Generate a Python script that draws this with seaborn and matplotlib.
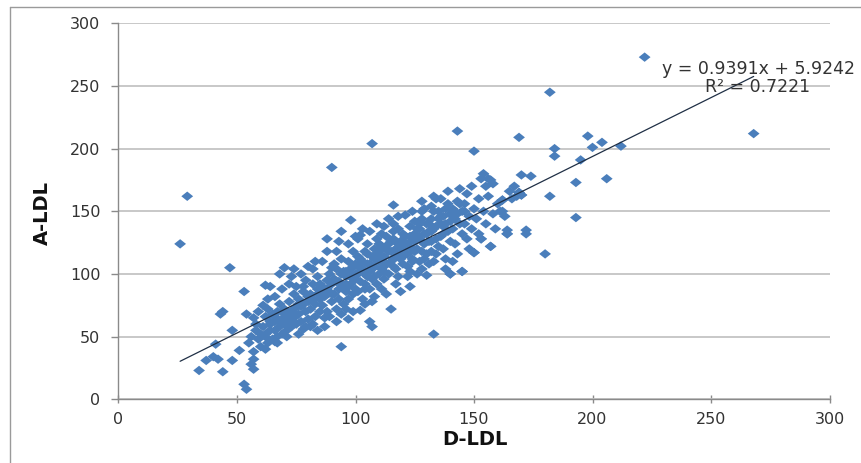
import matplotlib
matplotlib.use("Agg")
import matplotlib.pyplot as plt
import seaborn as sns
import numpy as np
import pandas as pd
from matplotlib.lines import Line2D

# ---- data ----
# outlying points
out_x = [222, 182, 268, 143, 150, 169, 184, 184, 198, 200, 204, 212, 195, 206, 193, 182, 193,
         170, 174, 169, 164, 172, 162, 157, 154, 162, 170, 180, 172, 164, 157, 153, 150, 145,
         140, 133, 26, 29, 90, 107, 94, 47, 53, 44, 43, 62, 34, 37, 40, 42, 44, 41, 48, 51,
         53, 54, 57, 48, 54, 57, 66]
out_y = [273, 245, 212, 214, 198, 209, 200, 194, 210, 201, 205, 202, 191, 176, 173, 162, 145,
         179, 178, 165, 135, 135, 150, 175, 180, 159, 163, 116, 132, 132, 122, 128, 117, 102,
         100, 52, 124, 162, 185, 204, 42, 105, 86, 70, 68, 91, 23, 31, 34, 32, 22, 44, 31, 39,
         12, 8, 24, 55, 68, 32, 46]

# main cloud
cloud_x = [55, 56, 57, 58, 58, 59, 57, 60, 56, 59, 60,
           61, 62, 62, 63, 63, 64, 64, 65, 61, 65, 63, 62, 64,
           66, 66, 67, 67, 68, 68, 69, 69, 70, 70, 66, 68, 70, 67, 69,
           71, 71, 72, 72, 73, 73, 74, 74, 75, 75, 72, 74, 71, 75, 73,
           76, 76, 77, 77, 78, 78, 79, 79, 80, 80, 77, 80, 76, 79, 78,
           81, 81, 82, 82, 83, 83, 84, 84, 85, 85, 82, 84, 81, 83, 85,
           86, 86, 87, 87, 88, 88, 89, 89, 90, 90, 86, 88, 87, 89, 90, 88,
           91, 91, 92, 92, 93, 93, 94, 94, 95, 95, 92, 94, 91, 93, 95, 92, 94,
           96, 96, 97, 97, 98, 98, 99, 99, 100, 100, 96, 98, 97, 99, 100, 97, 100,
           101, 101, 102, 102, 103, 103, 104, 104, 105, 105, 101, 102, 103, 104, 105, 101, 102,
           106, 106, 107, 107, 108, 108, 109, 109, 110, 110, 106, 107, 108, 109, 110, 106, 107,
           111, 111, 112, 112, 113, 113, 114, 114, 115, 115, 111, 112, 113, 115, 114, 111,
           116, 116, 117, 117, 118, 118, 119, 119, 120, 120, 116, 117, 118, 119, 120, 116,
           121, 121, 122, 122, 123, 123, 124, 124, 125, 125, 121, 122, 124, 123, 125,
           126, 126, 127, 127, 128, 128, 129, 129, 130, 130, 126, 128, 127, 130, 129,
           131, 131, 132, 132, 133, 133, 134, 134, 135, 135, 131, 133, 132, 134,
           136, 136, 137, 137, 138, 138, 139, 139, 140, 140, 136, 138, 140,
           141, 141, 142, 142, 143, 143, 144, 144, 145, 145, 141, 145,
           146, 146, 147, 147, 148, 148, 149, 149, 150, 150,
           151, 152, 152, 153, 154, 155, 155, 156, 157, 158, 158, 160, 159, 153, 156,
           161, 162, 163, 164, 165, 166, 167, 168, 170, 169]
cloud_y = [45, 50, 38, 55, 60, 48, 65, 42, 28, 70, 52,
           58, 50, 66, 45, 72, 55, 62, 48, 75, 68, 80, 40, 90,
           55, 62, 70, 50, 58, 76, 64, 52, 72, 60, 82, 100, 105, 45, 88,
           66, 55, 78, 62, 70, 58, 84, 65, 74, 60, 92, 104, 50, 90, 98,
           68, 80, 62, 74, 86, 56, 70, 95, 78, 64, 100, 106, 52, 58, 90,
           72, 84, 60, 92, 76, 66, 88, 98, 80, 70, 104, 55, 58, 110, 92,
           75, 90, 82, 65, 95, 70, 85, 100, 78, 92, 110, 118, 58, 66, 105, 128,
           84, 96, 72, 104, 88, 80, 100, 112, 90, 76, 118, 68, 108, 126, 102, 62, 134,
           86, 98, 80, 110, 92, 104, 84, 118, 96, 108, 72, 143, 124, 70, 88, 64, 130,
           100, 86, 112, 94, 104, 80, 118, 92, 108, 98, 128, 71, 136, 76, 124, 114, 131,
           102, 88, 114, 96, 120, 106, 92, 128, 110, 100, 62, 58, 82, 140, 118, 134, 78,
           104, 122, 96, 114, 130, 108, 100, 118, 126, 110, 88, 138, 84, 72, 144, 132,
           112, 128, 104, 120, 136, 98, 116, 126, 108, 132, 155, 92, 146, 86, 120, 140,
           116, 130, 106, 124, 138, 90, 112, 128, 118, 142, 147, 98, 150, 102, 132,
           120, 136, 110, 128, 144, 104, 124, 152, 116, 132, 100, 158, 140, 99, 112,
           126, 140, 118, 134, 150, 110, 128, 160, 122, 144, 108, 162, 154, 116,
           130, 146, 120, 138, 152, 112, 134, 166, 126, 148, 160, 104, 100,
           136, 152, 124, 144, 158, 116, 140, 168, 132, 102, 110, 150,
           140, 156, 128, 164, 146, 120, 136, 170, 117, 152,
           144, 160, 132, 128, 150, 170, 140, 162, 122, 148, 172, 156, 136, 176, 176,
           150, 159, 146, 132, 166, 160, 170, 162, 163, 165]

# extra points filling the dense core of the cloud
core_x = [92, 94, 96, 98, 99, 101, 103, 104, 106, 108, 109, 111, 112, 114, 115, 117, 118,
          120, 121, 123, 124, 126, 127, 129, 130, 132, 133, 135, 137, 138, 139, 141, 142,
          144, 96, 99, 102, 105, 107, 110, 113, 116, 119, 122, 125, 128, 131, 134, 137,
          140, 143, 146, 88, 90, 93, 97, 100, 104, 108, 112, 116, 120, 124, 128, 132, 136,
          62, 64, 66, 68, 70, 72, 74, 76, 78, 80, 82, 84, 86]
core_y = [94, 92, 102, 98, 106, 106, 110, 100, 108, 112, 116, 112, 106, 124, 118, 114, 124,
          126, 122, 130, 120, 130, 136, 132, 140, 144, 136, 150, 146, 140, 156, 146, 150,
          156, 92, 96, 102, 116, 104, 124, 120, 134, 112, 116, 126, 150, 134, 138, 132,
          142, 148, 150, 88, 84, 94, 90, 100, 88, 98, 102, 106, 114, 110, 118, 126, 140,
          52, 60, 66, 62, 68, 66, 72, 76, 76, 82, 80, 84, 86]

# trendline (as printed on the chart)
slope = 0.9391
intercept = 5.9242
eq_text = "y = 0.9391x + 5.9242"
r2_text = "R\u00b2 = 0.7221"

x_ticks = [0, 50, 100, 150, 200, 250, 300]
y_ticks = [0, 50, 100, 150, 200, 250, 300]
x_label = "D-LDL"
y_label = "A-LDL"

# ---- figure ----
sns.set_theme(style="white")
plt.rcParams['font.family'] = ['DejaVu Sans']

fig = plt.figure(figsize=(8.62, 4.63), dpi=100)
ax = fig.add_axes([118.5 / 862, 1 - 399.3 / 463, (829.5 - 118.5) / 862, (399.3 - 23.3) / 463])

df = pd.DataFrame({"x": out_x + cloud_x + core_x, "y": out_y + cloud_y + core_y})
diamond = [(-1, 0), (0, 0.8), (1, 0), (0, -0.8), (-1, 0)]
sns.scatterplot(data=df, x="x", y="y", ax=ax, marker=diamond, s=72,
                color="#4a7ebb", edgecolor="none", linewidth=0, zorder=3, legend=False)

xs = np.array([df["x"].min(), df["x"].max()], dtype=float)
ax.plot(xs, slope * xs + intercept, color="#1f2f45", lw=0.9, zorder=4)

ax.set_xlim(0, 300)
ax.set_ylim(0, 300)
ax.set_xticks(x_ticks)
ax.set_yticks(y_ticks)
ax.set_xticklabels([str(t) for t in x_ticks])
ax.set_yticklabels([str(t) for t in y_ticks])

ax.yaxis.grid(True, color="#c4c4c4", lw=1.3, zorder=0)
ax.xaxis.grid(False)
ax.set_axisbelow(True)
for s in ["top", "right"]:
    ax.spines[s].set_visible(False)
for s in ["left", "bottom"]:
    ax.spines[s].set_visible(True)
    ax.spines[s].set_color("#8a8a8a")
    ax.spines[s].set_linewidth(1.0)

ax.tick_params(axis="y", which="major", direction="out", length=5, width=1,
               color="#8a8a8a", labelsize=11.5, labelcolor="#333333", pad=8, left=True)
ax.tick_params(axis="x", which="major", direction="inout", length=6, width=1,
               color="#8a8a8a", labelsize=11.5, labelcolor="#333333", pad=6, bottom=True)

ax.set_xlabel("")
ax.set_ylabel("")
fig.text(474.5 / 862, 1 - 439.5 / 463, x_label, ha="center", va="center",
         fontsize=14, fontweight="bold", color="#111111")
fig.text(42 / 862, 1 - 213 / 463, y_label, ha="center", va="center", rotation=90,
         fontsize=14, fontweight="bold", color="#111111")

fig.text(759 / 862, 1 - 69 / 463, eq_text, ha="center", va="center",
         fontsize=12.5, color="#333333")
fig.text(758 / 862, 1 - 86.5 / 463, r2_text, ha="center", va="center",
         fontsize=12.5, color="#333333")

# outer chart border
fig.add_artist(Line2D([10 / 862, 10 / 862], [0, 1 - 7 / 463], transform=fig.transFigure,
                      color="#9a9a9a", lw=1))
fig.add_artist(Line2D([10 / 862, 1], [1 - 7 / 463, 1 - 7 / 463], transform=fig.transFigure,
                      color="#9a9a9a", lw=1))

fig.savefig("out.png", dpi=100, facecolor="white")
